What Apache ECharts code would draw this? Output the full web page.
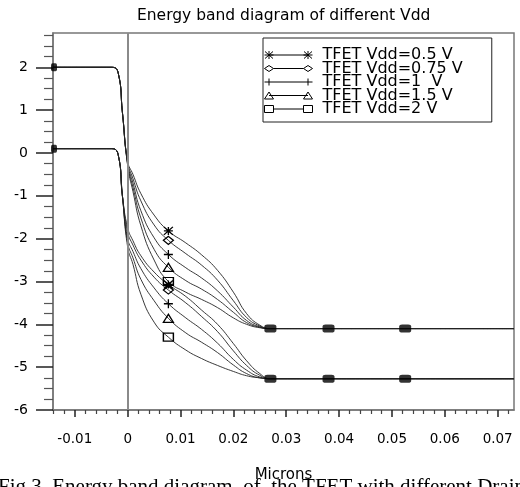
<!DOCTYPE html>
<html><head><meta charset="utf-8">
<script src="https://cdn.jsdelivr.net/npm/echarts@6/dist/echarts.min.js"></script>
<style>html,body{margin:0;padding:0;background:#fff}#c{width:520px;height:487px}</style>
</head><body><div id="c"></div>
<script>
// ---- data ----
const X = [-0.01413, -0.003, -0.0018, -0.001, 0, 0.001, 0.0025, 0.005, 0.0077, 0.011, 0.014, 0.017, 0.02, 0.0225, 0.025, 0.027, 0.038, 0.0525, 0.07309];
const names = ['TFET Vdd=0.5 V', 'TFET Vdd=0.75 V', 'TFET Vdd=1  V', 'TFET Vdd=1.5 V', 'TFET Vdd=2 V'];
// conduction band (upper group)
const C05  = [2.0, 2.0, 1.87, 0.95, -0.20, -0.50, -0.95, -1.45, -1.82, -2.10, -2.38, -2.74, -3.25, -3.75, -4.02, -4.10, -4.10, -4.10, -4.10];
const C075 = [2.0, 2.0, 1.87, 0.95, -0.22, -0.60, -1.12, -1.68, -2.04, -2.35, -2.62, -2.97, -3.45, -3.84, -4.04, -4.10, -4.10, -4.10, -4.10];
const C1   = [2.0, 2.0, 1.87, 0.95, -0.25, -0.70, -1.35, -1.98, -2.37, -2.68, -2.92, -3.22, -3.60, -3.91, -4.06, -4.10, -4.10, -4.10, -4.10];
const C15  = [2.0, 2.0, 1.87, 0.95, -0.28, -0.80, -1.52, -2.25, -2.67, -2.98, -3.18, -3.42, -3.72, -3.96, -4.07, -4.10, -4.10, -4.10, -4.10];
const C2   = [2.0, 2.0, 1.87, 0.95, -0.30, -0.90, -1.70, -2.50, -3.00, -3.25, -3.42, -3.61, -3.85, -4.00, -4.08, -4.10, -4.10, -4.10, -4.10];
// valence band (lower group)
const V05  = [0.1, 0.1, -0.04, -1.00, -1.75, -2.05, -2.40, -2.78, -3.07, -3.35, -3.67, -4.00, -4.45, -4.85, -5.15, -5.27, -5.27, -5.27, -5.27];
const V075 = [0.1, 0.1, -0.04, -1.00, -1.85, -2.15, -2.50, -2.90, -3.20, -3.50, -3.82, -4.17, -4.62, -4.96, -5.19, -5.27, -5.27, -5.27, -5.27];
const V1   = [0.1, 0.1, -0.04, -1.00, -2.00, -2.30, -2.70, -3.15, -3.52, -3.85, -4.12, -4.44, -4.82, -5.07, -5.23, -5.27, -5.27, -5.27, -5.27];
const V15  = [0.1, 0.1, -0.04, -1.00, -2.10, -2.45, -2.95, -3.45, -3.86, -4.20, -4.42, -4.66, -4.95, -5.15, -5.25, -5.27, -5.27, -5.27, -5.27];
const V2   = [0.1, 0.1, -0.04, -1.00, -2.20, -2.60, -3.30, -3.95, -4.30, -4.60, -4.80, -4.96, -5.10, -5.20, -5.25, -5.27, -5.27, -5.27, -5.27];
const xTicks = [-0.01, 0, 0.01, 0.02, 0.03, 0.04, 0.05, 0.06, 0.07];
const yTicks = [-6, -5, -4, -3, -2, -1, 0, 1, 2];
const markIdx = 8;          // index of the curve marker
const blobIdx = [0, 15, 16, 17];

// ---- styling ----
const C = [C05, C075, C1, C15, C2];
const V = [V05, V075, V1, V15, V2];
const FONT = 'DejaVu Sans';
const symbols = [
  {s: 'path://M0 0L10 10M10 0L0 10M0 5L10 5M5 0L5 10', z: [9, 8]},
  {s: 'diamond', z: [10, 8]},
  {s: 'path://M0 5L10 5M5 0L5 10', z: [9, 9]},
  {s: 'triangle', z: [10, 8]},
  {s: 'rect', z: [10, 8]}
];
const icons = [
  'path://M4.5 4L43.5 4M0.5 0.5L8.5 7.5M8.5 0.5L0.5 7.5M0 4L9 4M4.5 0L4.5 8M39.5 0.5L47.5 7.5M47.5 0.5L39.5 7.5M39 4L48 4M43.5 0L43.5 8',
  'path://M0 4L4.5 1L9 4L4.5 7ZM9 4L39 4M39 4L43.5 1L48 4L43.5 7ZM0 0M48 8',
  'path://M0 4L48 4M4.5 0.5L4.5 7.5M43.5 0.5L43.5 7.5M0 0M48 8',
  'path://M0 7.5L4.5 0.5L9 7.5ZM4.5 4L43.5 4M39 7.5L43.5 0.5L48 7.5ZM0 0M48 8',
  'path://M0 0.5L9 0.5L9 7.5L0 7.5ZM9 4L39 4M39 0.5L48 0.5L48 7.5L39 7.5ZM0 0M48 8'
];
const minorX = []; for (let v = -14; v <= 72; v += 2) if (v % 10 !== 0) minorX.push(v / 1000);
const minorY = []; for (let v = -24; v <= 11; v++) if (v % 4 !== 0) minorY.push(v / 4);

function mk(name, ys, k, extra) {
  return Object.assign({
    type: 'line', name: name, smooth: 0.5, symbol: 'none',
    lineStyle: {color: '#222', width: 0.9},
    itemStyle: {color: 'rgba(0,0,0,0)', borderColor: '#000', borderWidth: 1.3},
    emphasis: {disabled: true}, silent: true, z: 3,
    data: X.map((x, i) => i === markIdx
      ? {value: [x, ys[i]], symbol: symbols[k].s, symbolSize: symbols[k].z}
      : [x, ys[i]])
  }, extra || {});
}
const series = [];
for (let k = 0; k < 5; k++) {
  series.push(mk(names[k], C[k], k, k === 0 ? {
    markLine: {silent: true, symbol: 'none', label: {show: false},
      lineStyle: {color: '#8a8a8a', width: 2, type: 'solid'}, data: [{xAxis: 0}]}
  } : null));
  series.push(mk(names[k], V[k], k));
}
const blobs = [];
[C05, V05].forEach(arr => blobIdx.forEach(i => {
  blobs.push(i === 0 ? {value: [X[i], arr[i]], symbolSize: [6, 8], symbolOffset: [1, 0]} : [X[i], arr[i]]);
}));
series.push({type: 'scatter', symbol: 'roundRect', symbolSize: [12, 8], itemStyle: {color: '#000'},
  silent: true, z: 5, data: blobs});

const axisCommon = {type: 'value', splitLine: {show: false}};
const chart = echarts.init(document.getElementById('c'), null, {renderer: 'canvas'});
chart.setOption({
  animation: false,
  backgroundColor: '#fff',
  title: [
    {text: 'Energy band diagram of different Vdd', left: 137, top: 7.5, padding: 0,
      textStyle: {fontFamily: FONT, fontSize: 15.5, fontWeight: 'normal', color: '#000'}},
    {text: 'Fig.3. Energy band diagram  of  the TFET with different Drain', left: -2, top: 477, padding: 0,
      textStyle: {fontFamily: 'Liberation Serif', fontSize: 21, fontWeight: 'normal', color: '#000'}}
  ],
  grid: {left: 53, right: 6, top: 33, bottom: 77, show: true, borderColor: '#777', borderWidth: 1.5,
    containLabel: false, outerBoundsMode: 'none'},
  legend: {
    orient: 'vertical', left: 263, top: 38, padding: [9, 29, 5, 1],
    borderColor: '#222', borderWidth: 1, itemWidth: 48, itemHeight: 8, itemGap: -2.5,
    selectedMode: false,
    textStyle: {fontFamily: FONT, fontSize: 16, color: '#000', lineHeight: 13.5, padding: [0, 0, 0, 5]},
    data: names.map((n, k) => ({name: n, icon: icons[k],
      itemStyle: {color: 'rgba(0,0,0,0)', borderColor: '#000', borderWidth: 1}}))
  },
  xAxis: [
    Object.assign({}, axisCommon, {
      min: -0.01413, max: 0.07309, position: 'bottom',
      name: 'Microns', nameLocation: 'middle', nameGap: 58,
      nameTextStyle: {fontFamily: FONT, fontSize: 15, color: '#000'},
      axisLine: {show: true, onZero: false, lineStyle: {color: '#777', width: 1.5}},
      axisTick: {show: true, customValues: xTicks, length: 7, lineStyle: {color: '#222', width: 1.5}},
      axisLabel: {customValues: xTicks, margin: 22, fontFamily: FONT, fontSize: 13.5, color: '#000',
        formatter: v => String(Math.round(v * 1000) / 1000)}
    }),
    Object.assign({}, axisCommon, {
      min: -0.01413, max: 0.07309, position: 'bottom',
      axisLine: {show: false, onZero: false},
      axisTick: {show: true, customValues: minorX, length: 4, lineStyle: {color: '#444', width: 1.2}},
      axisLabel: {show: false}
    })
  ],
  yAxis: [
    Object.assign({}, axisCommon, {
      min: -6, max: 2.8, position: 'left',
      axisLine: {show: true, onZero: false, lineStyle: {color: '#777', width: 1.5}},
      axisTick: {show: true, customValues: yTicks, length: 17, lineStyle: {color: '#222', width: 1.5}},
      axisLabel: {customValues: yTicks, margin: 25, fontFamily: FONT, fontSize: 14, color: '#000'}
    }),
    Object.assign({}, axisCommon, {
      min: -6, max: 2.8, position: 'left',
      axisLine: {show: false, onZero: false},
      axisTick: {show: true, customValues: minorY, length: 9, lineStyle: {color: '#555', width: 1.2}},
      axisLabel: {show: false}
    })
  ],
  series: series
});
</script></body></html>
